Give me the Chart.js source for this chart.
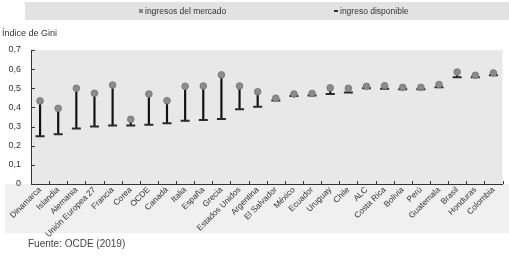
<!DOCTYPE html>
<html><head><meta charset="utf-8">
<script src="https://cdn.jsdelivr.net/npm/chart.js@4.4.1/dist/chart.umd.min.js"></script>
<style>
html,body{margin:0;padding:0;background:#fff;}
#wrap{position:relative;width:509px;height:257px;overflow:hidden;font-family:"Liberation Sans",Arial,sans-serif;color:#333;}
#c{position:absolute;left:0;top:0;}
.band{position:absolute;left:25px;top:2px;width:484px;height:18px;background:#e2e2e2;}
.li{position:absolute;top:0;height:18px;line-height:18px;font-size:8.5px;color:#333;white-space:nowrap;}
.sq{display:inline-block;width:4px;height:4px;background:#8a8a8a;margin-right:2px;vertical-align:middle;position:relative;top:-1px;}
.ds{display:inline-block;width:4px;height:1.5px;background:#333;margin-right:2px;vertical-align:middle;position:relative;top:-1px;}
.ytitle{position:absolute;left:2px;top:28px;font-size:9px;color:#333;}
.src{position:absolute;left:28px;top:238px;font-size:10px;color:#444;}
</style></head>
<body>
<div id="wrap">
<canvas id="c" width="509" height="257"></canvas>
<div class="band">
  <div class="li" style="left:114px"><span class="sq"></span>ingresos del mercado</div>
  <div class="li" style="left:309px"><span class="ds"></span>ingreso disponible</div>
</div>
<div class="ytitle">Índice de Gini</div>
<div class="src">Fuente: OCDE (2019)</div>
</div>
<script>
const categories = ["Dinamarca","Islandia","Alemania","Unión Europea 27","Francia","Corea","OCDE","Canadá","Italia","España","Grecia","Estados Unidos","Argentina","El Salvador","México","Ecuador","Uruguay","Chile","ALC","Costa Rica","Bolivia","Perú","Guatemala","Brasil","Honduras","Colombia"];
const marketIncome = [0.434,0.395,0.500,0.474,0.517,0.338,0.470,0.435,0.510,0.512,0.570,0.512,0.482,0.448,0.470,0.473,0.502,0.500,0.510,0.513,0.505,0.505,0.520,0.585,0.568,0.580];
const disposableIncome = [0.250,0.260,0.290,0.300,0.305,0.305,0.310,0.317,0.330,0.334,0.340,0.390,0.404,0.436,0.460,0.462,0.470,0.478,0.500,0.497,0.495,0.495,0.505,0.558,0.558,0.568];
const yTicks = [0,0.1,0.2,0.3,0.4,0.5,0.6,0.7];

const connectors = categories.map((c,i)=>[disposableIncome[i], marketIncome[i]]);

const bgPlugin = {
  id:'bg',
  beforeDraw(chart){
    const {ctx, chartArea:a} = chart;
    ctx.save();
    ctx.fillStyle = '#f0f0f0';
    ctx.fillRect(5, a.bottom, 504, 233 - a.bottom);
    ctx.fillStyle = '#e8e8e8';
    ctx.fillRect(a.left, a.top, a.right - a.left, a.bottom - a.top);
    ctx.restore();
  },
  afterDraw(chart){
    const {ctx, chartArea:a, scales} = chart;
    ctx.save();
    ctx.strokeStyle = '#333';
    ctx.lineWidth = 1;
    ctx.beginPath();
    yTicks.forEach(v=>{
      const y = Math.round(scales.y.getPixelForValue(v)) + 0.5;
      ctx.moveTo(a.left, y); ctx.lineTo(a.left + 4, y);
    });
    for (let i = 0; i <= categories.length; i++) {
      const x = Math.round(a.left + i * (a.right - a.left) / categories.length) + 0.5;
      ctx.moveTo(x, a.bottom); ctx.lineTo(x, a.bottom - 3);
    }
    ctx.stroke();
    ctx.restore();
  }
};

new Chart(document.getElementById('c'), {
  type:'bar',
  data:{
    labels: categories,
    datasets:[
      {type:'line', label:'ingresos del mercado', data: marketIncome, showLine:false,
       pointStyle:'circle', pointRadius:3.3, pointBackgroundColor:'#8c8c8c', pointBorderColor:'#7a7a7a', pointBorderWidth:1, order:1},
      {type:'line', label:'ingreso disponible', data: disposableIncome, showLine:false,
       pointStyle:'line', pointRadius:4.5, pointBorderColor:'#2a2a2a', pointBorderWidth:2, order:2},
      {type:'bar', label:'rango', data: connectors, backgroundColor:'#111', barThickness:1.5, order:3}
    ]
  },
  options:{
    responsive:false, animation:false,
    layout:{padding:{top:50,left:0,right:0,bottom:0}},
    plugins:{legend:{display:false}, tooltip:{enabled:false}},
    scales:{
      x:{
        offset:true,
        grid:{display:false, drawTicks:false},
        border:{display:true, color:'#333', width:1},
        ticks:{autoSkip:false, minRotation:45, maxRotation:45, padding:1, color:'#333',
               font:{family:'"Liberation Sans", Arial, sans-serif', size:8.3}},
        afterFit(s){ s.height = 73; }
      },
      y:{
        min:0, max:0.7,
        grid:{display:false, drawTicks:false},
        border:{display:true, color:'#333', width:1},
        afterBuildTicks(s){ s.ticks = yTicks.map(v=>({value:v})); },
        ticks:{padding:10, color:'#333', font:{family:'"Liberation Sans", Arial, sans-serif', size:9},
               callback:(v)=> v===0 ? '0' : v.toFixed(1).replace('.',',')},
        afterFit(s){ s.width = 31; }
      }
    }
  },
  plugins:[bgPlugin]
});
</script>
</body></html>
